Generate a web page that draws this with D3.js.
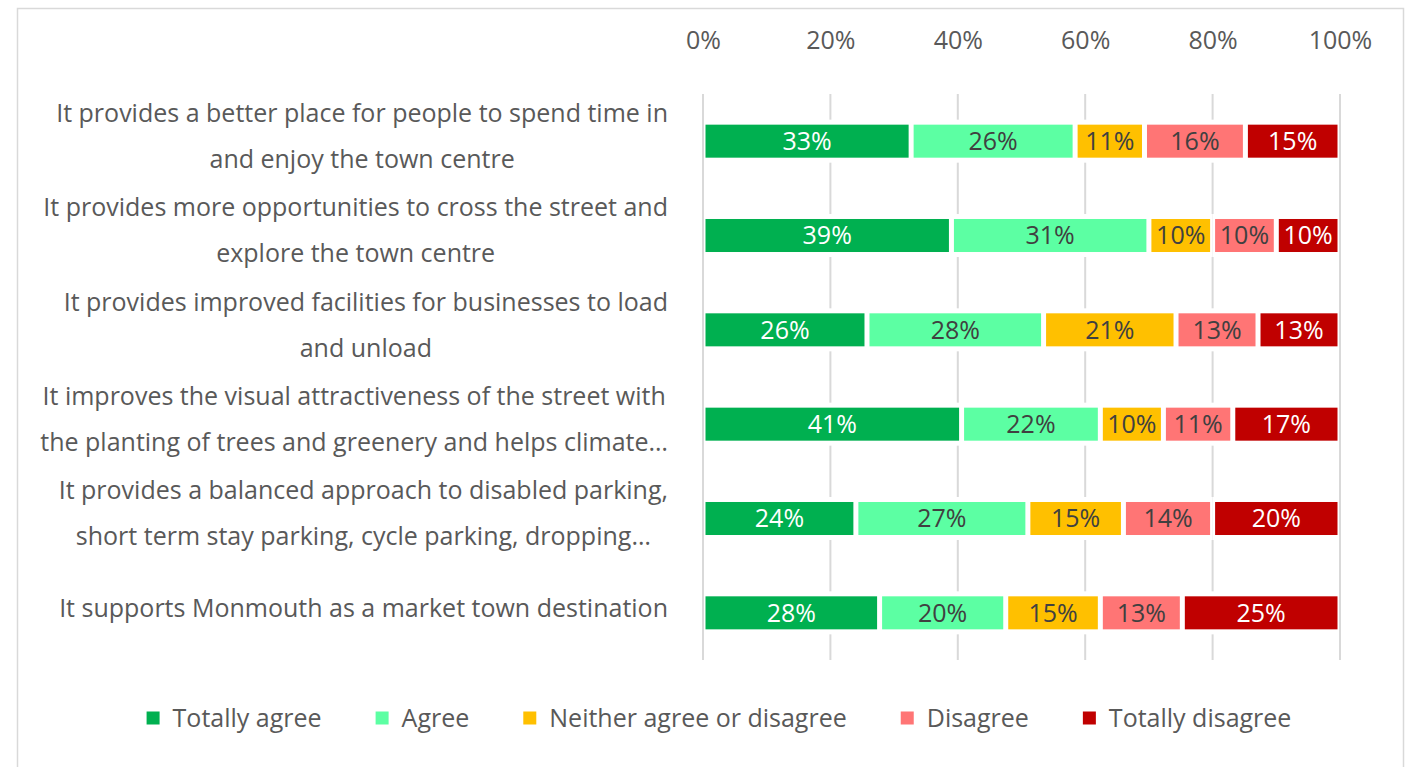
<!DOCTYPE html>
<html>
<head>
<meta charset="utf-8">
<script src="https://cdn.jsdelivr.net/npm/d3@7"></script>
<style>
  html, body { margin: 0; padding: 0; background: #fff; }
  svg { display: block; }
  text { font-family: "Open Sans", "Noto Sans", sans-serif; }
</style>
</head>
<body>
<svg id="chart" width="1426" height="767"></svg>
<script>
// ---- Data ----
const categories = [
  ["It provides a better place for people to spend time in", "and enjoy the town centre"],
  ["It provides more opportunities to cross the street and", "explore the town centre"],
  ["It provides improved facilities for businesses to load", "and unload"],
  ["It improves the visual attractiveness of the street with", "the planting of trees and greenery and helps climate…"],
  ["It provides a balanced approach to disabled parking,", "short term stay parking, cycle parking, dropping…"],
  ["It supports Monmouth as a market town destination"]
];
const seriesNames = ["Totally agree", "Agree", "Neither agree or disagree", "Disagree", "Totally disagree"];
const totallyAgree    = [33, 39, 26, 41, 24, 28];
const agree           = [26, 31, 28, 22, 27, 20];
const neither         = [11, 10, 21, 10, 15, 15];
const disagree        = [16, 10, 13, 11, 14, 13];
const totallyDisagree = [15, 10, 13, 17, 20, 25];
const tickValues = [0, 0.2, 0.4, 0.6, 0.8, 1.0];
const colors = ["#00B050", "#5CFFA3", "#FFC000", "#FF7575", "#C00000"];
const labelColors = ["#ffffff", "#404040", "#404040", "#404040", "#ffffff"];

// ---- Build table ----
const seriesArrays = [totallyAgree, agree, neither, disagree, totallyDisagree];
const rows = categories.map((c, i) => {
  const r = { idx: i };
  seriesNames.forEach((s, j) => r[s] = seriesArrays[j][i]);
  return r;
});

const svg = d3.select("#chart");
const FONT = 25;
const TEXT = "#595959";

// chart border
svg.append("rect")
  .attr("x", 17.5).attr("y", 8.5).attr("width", 1386).attr("height", 780)
  .attr("fill", "#fff").attr("stroke", "#d9d9d9").attr("stroke-width", 1.5);

const x = d3.scaleLinear().domain([0, 1]).range([703, 1340]);
const y = d3.scaleBand().domain(d3.range(categories.length)).range([94, 660])
  .paddingInner(0.65).paddingOuter(0.325);

// gridlines
svg.append("g").selectAll("line").data(tickValues).join("line")
  .attr("x1", d => x(d)).attr("x2", d => x(d))
  .attr("y1", 94).attr("y2", 660)
  .attr("stroke", "#d9d9d9").attr("stroke-width", 2);

// top axis labels
const axis = d3.axisTop(x).tickValues(tickValues).tickFormat(d3.format(".0%")).tickSize(0).tickPadding(0);
const ag = svg.append("g").attr("transform", "translate(0,49)").call(axis);
ag.select(".domain").remove();
ag.selectAll("text").attr("font-size", FONT).attr("fill", TEXT)
  .attr("font-family", "'Open Sans', sans-serif").attr("dy", 0);

// stack
const stack = d3.stack().keys(seriesNames).offset(d3.stackOffsetExpand);
const stacked = stack(rows);

const gap = 2.5;
const layers = svg.append("g").selectAll("g").data(stacked).join("g");

// white knockouts behind segments (break the gridlines)
layers.selectAll("rect.bg").data(d => d).join("rect").attr("class", "bg")
  .attr("x", d => x(d[0]) + (d[0] > 0 ? 0 : 2))
  .attr("width", d => x(d[1]) - x(d[0]) - (d[0] > 0 ? 0 : 2) - (d[1] < 0.9999 ? 0 : 2))
  .attr("y", d => y(d.data.idx) - 5)
  .attr("height", y.bandwidth() + 10)
  .attr("fill", "#fff");

layers.each(function(layer, j) {
  const g = d3.select(this);
  g.selectAll("rect.seg").data(layer).join("rect").attr("class", "seg")
    .attr("x", d => x(d[0]) + gap)
    .attr("width", d => Math.max(0, x(d[1]) - x(d[0]) - 2 * gap))
    .attr("y", d => y(d.data.idx))
    .attr("height", y.bandwidth())
    .attr("fill", colors[j]);
  g.selectAll("text").data(layer).join("text")
    .attr("x", d => (x(d[0]) + x(d[1])) / 2)
    .attr("y", d => y(d.data.idx) + y.bandwidth() / 2)
    .attr("dy", "0.35em")
    .attr("text-anchor", "middle")
    .attr("font-size", FONT)
    .attr("fill", labelColors[j])
    .text(d => d.data[layer.key] + "%");
});

// category labels: block right-aligned at 668, lines centered in block
const lineGap = 46;
const catG = svg.append("g");
categories.forEach((lines, i) => {
  const cy = y(i) + y.bandwidth() / 2 - 5;
  const texts = lines.map((ln, k) => catG.append("text")
    .attr("font-size", FONT).attr("fill", TEXT)
    .attr("text-anchor", "middle")
    .attr("y", cy + (k - (lines.length - 1) / 2) * lineGap)
    .attr("dy", "0.35em")
    .text(ln));
  const maxW = d3.max(texts, t => t.node().getComputedTextLength());
  const center = 668 - maxW / 2;
  texts.forEach(t => t.attr("x", center));
});

// legend
const legG = svg.append("g");
const items = seriesNames.map((s, j) => {
  const g = legG.append("g");
  g.append("rect").attr("width", 13).attr("height", 13).attr("y", -6.5).attr("fill", colors[j]);
  const t = g.append("text").attr("x", 26).attr("dy", "0.35em")
    .attr("font-size", FONT).attr("fill", TEXT).text(s);
  return { g, w: 26 + t.node().getComputedTextLength() };
});
const legGap = 54;
const totalW = d3.sum(items, d => d.w) + legGap * (items.length - 1);
let lx = 719 - totalW / 2;
items.forEach(it => {
  it.g.attr("transform", `translate(${lx},718)`);
  lx += it.w + legGap;
});
</script>
</body>
</html>
